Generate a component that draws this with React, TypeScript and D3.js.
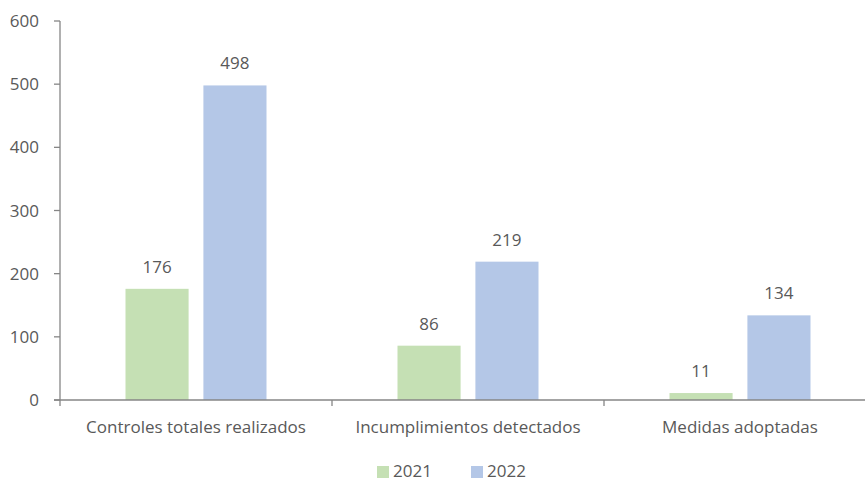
import React from "react";
import * as d3 from "d3";

const categories = ["Controles totales realizados", "Incumplimientos detectados", "Medidas adoptadas"];
const seriesNames = ["2021", "2022"];
const values2021 = [176, 86, 11];
const values2022 = [498, 219, 134];
const yTicks = [0, 100, 200, 300, 400, 500, 600];
const colors = ["#c5e0b4", "#b4c7e7"];

const W = 865, H = 482;
const left = 60, right = 876, top = 21, bottom = 400;
const font = "'Open Sans', 'Noto Sans', sans-serif";
const textColor = "#595959";
const axisColor = "#868686";
const fs = 17;
const groupW = 141;

export default function App() {
  const x = d3.scaleBand<string>().domain(categories).range([left, right]).paddingInner(0).paddingOuter(0);
  const x1 = d3.scaleBand<string>().domain(seriesNames).range([0, groupW]).paddingInner(0.19);
  const y = d3.scaleLinear().domain([0, 600]).range([bottom, top]);
  const series = [values2021, values2022];
  const bw = x.bandwidth();
  const groupOffset = (bw - groupW) / 2;
  return (
    <svg width={W} height={H} style={{ position: "absolute", left: 0, top: 0, background: "#fff" }} fontFamily={font}>
      {yTicks.map((t) => (
        <g key={t}>
          <line x1={left - 6} x2={left} y1={y(t)} y2={y(t)} stroke={axisColor} strokeWidth={1.3} />
          <text x={left - 21} y={y(t)} dy="0.36em" textAnchor="end" fontSize={fs} fill={textColor}>{t}</text>
        </g>
      ))}
      {series.map((vals, si) =>
        vals.map((v, ci) => {
          const bx = (x(categories[ci]) as number) + groupOffset + (x1(seriesNames[si]) as number);
          return (
            <g key={`${si}-${ci}`}>
              <rect x={bx} y={y(v)} width={x1.bandwidth()} height={y(0) - y(v)} fill={colors[si]} />
              <text x={bx + x1.bandwidth() / 2} y={y(v) - 16} textAnchor="middle" fontSize={fs} fill={textColor}>{v}</text>
            </g>
          );
        })
      )}
      <line x1={left} x2={left} y1={top} y2={bottom} stroke={axisColor} strokeWidth={1.3} />
      <line x1={left - 6} x2={W} y1={bottom} y2={bottom} stroke={axisColor} strokeWidth={1.3} />
      {[0, 1, 2, 3].map((i) => {
        const xx = left + i * bw;
        return <line key={i} x1={xx} x2={xx} y1={bottom} y2={bottom + 6} stroke={axisColor} strokeWidth={1.3} />;
      })}
      {categories.map((c) => (
        <text key={c} x={(x(c) as number) + bw / 2} y={433} textAnchor="middle" fontSize={fs} fill={textColor}>{c}</text>
      ))}
      {seriesNames.map((s, i) => {
        const lx = 377 + i * 94;
        return (
          <g key={s}>
            <rect x={lx} y={466} width={12} height={12} fill={colors[i]} />
            <text x={lx + 16} y={477} fontSize={fs} fill={textColor}>{s}</text>
          </g>
        );
      })}
    </svg>
  );
}
